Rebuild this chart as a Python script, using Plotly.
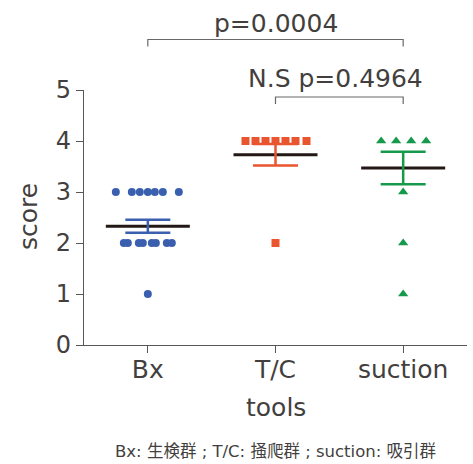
import plotly.graph_objects as go

# ---- data ----
categories = ["Bx", "T/C", "suction"]
bx_scores = [3, 3, 3, 3, 3, 3, 3, 2, 2, 2, 2, 2, 2, 2, 2, 1]
tc_scores = [4, 4, 4, 4, 4, 4, 4, 2]
suction_scores = [4, 4, 4, 4, 3, 2, 1]
group_means = [2.33, 3.73, 3.47]
group_sems = [0.127, 0.21, 0.32]
y_ticks = [0, 1, 2, 3, 4, 5]
y_title = "score"
x_title = "tools"
p_all = "p=0.0004"
p_tc_suction = "N.S p=0.4964"
footnote = "Bx: 生検群 ; T/C: 掻爬群 ; suction: 吸引群"

# ---- layout / style (pixel offsets for swarm layout) ----
W, H = 473, 464
ML, MR, MT, MB = 84, 6, 90, 119
PW = W - ML - MR
PH = H - MT - MB
px_per_cat = PW / 3.0

bx_offsets_px = [-32, -16, -8, 0, 7, 15, 31, -24, -20, -9, -5, 4, 8, 19, 24, 0]
tc_offsets_px = [-30, -20, -10, 0, 10, 20, 31, 0]
suction_offsets_px = [-22, -7, 8, 23, 0, 0, 0]

colors = ["#3a5fae", "#e9552f", "#16994a"]
symbols = ["circle", "square", "triangle-up"]
sizes = [8, 8, 9]
text_color = "#433f3e"
axis_color = "#5a5656"
mean_color = "#231815"
FONT = "DejaVu Sans, Noto Sans CJK JP"

groups = [bx_scores, tc_scores, suction_scores]
offsets = [bx_offsets_px, tc_offsets_px, suction_offsets_px]

fig = go.Figure()

mean_half = 42 / px_per_cat
cap_half = 22.5 / px_per_cat

for i, (scores, offs) in enumerate(zip(groups, offsets)):
    m = group_means[i]
    s = group_sems[i]
    for yv in (m - s, m + s):
        fig.add_trace(go.Scatter(x=[i - cap_half, i + cap_half], y=[yv, yv], mode="lines",
                                 line=dict(color=colors[i], width=2.5),
                                 hoverinfo="skip", showlegend=False))
    fig.add_trace(go.Scatter(x=[i - mean_half, i + mean_half], y=[m, m], mode="lines",
                             line=dict(color=mean_color, width=3),
                             hoverinfo="skip", showlegend=False))
    fig.add_trace(go.Scatter(x=[i, i], y=[m - s, m + s], mode="lines",
                             line=dict(color=colors[i], width=2.5),
                             hoverinfo="skip", showlegend=False))
    fig.add_trace(go.Scatter(
        x=[i + o / px_per_cat for o in offs], y=scores, mode="markers",
        marker=dict(symbol=symbols[i], size=sizes[i], color=colors[i], line=dict(width=0)),
        name=categories[i], showlegend=False, cliponaxis=False))

fig.update_layout(
    width=W, height=H,
    margin=dict(l=ML, r=MR, t=MT, b=MB),
    paper_bgcolor="white", plot_bgcolor="white",
    font=dict(family=FONT, color=text_color),
    showlegend=False,
)
fig.update_xaxes(
    range=[-0.5, 2.5], tickvals=[0, 1, 2], ticktext=categories,
    showgrid=False, zeroline=False, showline=True, linecolor=axis_color, linewidth=1.2,
    ticks="outside", ticklen=7, tickwidth=1.2, tickcolor=axis_color,
    ticklabelstandoff=-5,
    tickfont=dict(size=25, family=FONT, color=text_color),
)
fig.update_yaxes(
    range=[0, 5], tickvals=y_ticks,
    showgrid=False, zeroline=False, showline=True, linecolor=axis_color, linewidth=1.2,
    ticks="outside", ticklen=7, tickwidth=1.2, tickcolor=axis_color,
    tickfont=dict(size=24, family=FONT, color=text_color),
)

def py(pix):
    return (H - MB - pix) / PH

def cx(c):
    return (c + 0.5) / 3.0

line_style = dict(color="#6b6767", width=1.2)
for (c0, c1, ypix) in [(0, 2, 39.5), (1, 2, 97)]:
    fig.add_shape(type="path", xref="paper", yref="paper",
                  path=f"M {cx(c0)} {py(ypix + 7)} L {cx(c0)} {py(ypix)} L {cx(c1)} {py(ypix)} L {cx(c1)} {py(ypix + 7)}",
                  line=line_style)

ann = []
ann.append(dict(text=p_all, x=cx(1), y=py(23), xref="paper", yref="paper",
                xanchor="center", yanchor="middle", showarrow=False,
                font=dict(size=25, family=FONT, color=text_color)))
ann.append(dict(text=p_tc_suction, x=(335 - ML) / PW, y=py(79), xref="paper", yref="paper",
                xanchor="center", yanchor="middle", showarrow=False,
                font=dict(size=25, family=FONT, color=text_color)))
ann.append(dict(text=y_title, x=(28 - ML) / PW, y=py(217), xref="paper", yref="paper",
                xanchor="center", yanchor="middle", showarrow=False, textangle=-90,
                font=dict(size=25, family=FONT, color=text_color)))
ann.append(dict(text=x_title, x=cx(1), y=py(407), xref="paper", yref="paper",
                xanchor="center", yanchor="middle", showarrow=False,
                font=dict(size=25, family=FONT, color=text_color)))
ann.append(dict(text=footnote, x=cx(1), y=py(451), xref="paper", yref="paper",
                xanchor="center", yanchor="middle", showarrow=False,
                font=dict(size=16.5, family=FONT, color=text_color)))
fig.update_layout(annotations=ann)

fig.write_html("out.html",
               config={"displayModeBar": False},
               post_script="document.body.style.margin='0';document.body.style.padding='0';")
